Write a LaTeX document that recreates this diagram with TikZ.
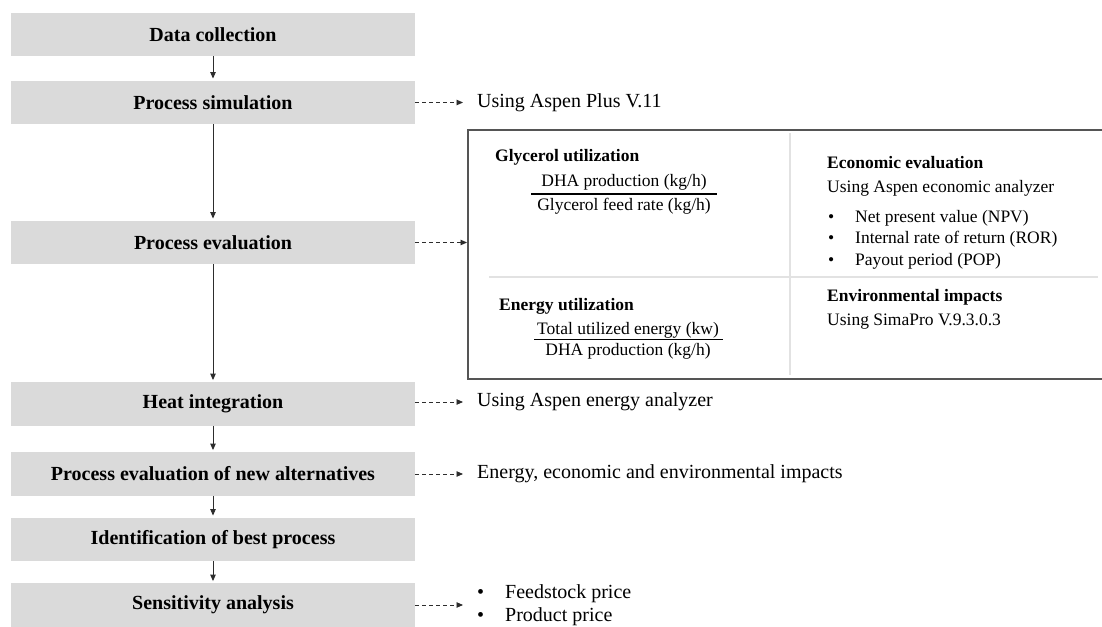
\documentclass[tikz,border=0pt]{standalone}
\usepackage{fontspec}
\setmainfont{Liberation Serif}
\usetikzlibrary{arrows.meta}

\definecolor{boxgray}{RGB}{218,218,218}
\definecolor{linegray}{RGB}{45,45,45}
\definecolor{framegray}{RGB}{85,85,85}
\definecolor{divgray}{RGB}{226,226,226}

\newcommand{\stagefont}{\fontsize{20}{23}\selectfont}
\newcommand{\cellfont}{\fontsize{17.5}{21.5}\selectfont}

\begin{document}
\begin{tikzpicture}[x=1pt,y=-1pt,
  stagebox/.style={fill=boxgray, minimum width=404pt, minimum height=43.5pt,
    inner sep=0pt, font=\stagefont\bfseries},
  flowarrow/.style={draw=linegray, line width=0.9pt,
    -{Triangle[length=6.5pt,width=5.5pt]}, shorten >=2pt},
  noteline/.style={draw=linegray, line width=0.9pt, dash pattern=on 4pt off 3pt,
    -{Triangle[length=6.5pt,width=5.5pt]}},
  note/.style={anchor=west, inner xsep=14pt, inner ysep=0pt, font=\stagefont, align=left},
  cell/.style={anchor=west, inner sep=0pt, font=\cellfont, align=left},
  cellhead/.style={cell, font=\cellfont\bfseries},
  ratio/.style={inner sep=0pt, font=\cellfont},
  divider/.style={draw=divgray, line width=1.5pt},
]
\useasboundingbox (0,0) rectangle (1102,626);
\clip (0,0) rectangle (1102,626);

% main sequence of stages
\node[stagebox] (dc) at (213,34.5)  {Data collection};
\node[stagebox] (ps) at (213,102.5) {Process simulation};
\node[stagebox] (pe) at (213,242.5) {Process evaluation};
\node[stagebox] (hi) at (213,404)   {Heat integration};
\node[stagebox] (na) at (213,474)   {Process evaluation of new alternatives};
\node[stagebox] (ib) at (213,539.5) {Identification of best process};
\node[stagebox] (sa) at (213,605)   {Sensitivity analysis};

\draw[flowarrow] (dc) -- (ps);
\draw[flowarrow] (ps) -- (pe);
\draw[flowarrow] (pe) -- (hi);
\draw[flowarrow] (hi) -- (na);
\draw[flowarrow] (na) -- (ib);
\draw[flowarrow] (ib) -- (sa);

% side notes
\node[note] (n1) at (463,102.5) {Using Aspen Plus V.11};
\node[note] (n3) at (463,402)   {Using Aspen energy analyzer};
\node[note] (n4) at (463,474)   {Energy, economic and environmental impacts};
\node[note] (n5) at (463,605.5) {\makebox[28pt][l]{•}Feedstock price\\\makebox[28pt][l]{•}Product price};

% evaluation criteria panel
\node[draw=framegray, line width=1.5pt, anchor=north west, minimum width=660pt,
  minimum height=249pt, inner sep=0pt] (evalbox) at (467,129) {};
\draw[divider] (790,133) -- (790,375);
\draw[divider] (489,277) -- (1098,277);

\node[cellhead] (gu) at (495,157) {Glycerol utilization};
\node[ratio] (gnum) at (624,182) {DHA production (kg/h)};
\node[ratio] (gden) at (624,206.5) {Glycerol feed rate (kg/h)};
\draw[line width=1.1pt] (531,194) -- (717,194);

\node[cellhead] (eu) at (499,306) {Energy utilization};
\node[ratio] (enum) at (628,330) {Total utilized energy (kw)};
\node[ratio] (eden) at (628,351) {DHA production (kg/h)};
\draw[line width=1.1pt] (534,339.5) -- (723,339.5);

\node[cellhead] (ee) at (827,163) {Economic evaluation};
\node[cell] (ea) at (827,188) {Using Aspen economic analyzer};
\node[cell] (el) at (828,239.5) {\makebox[27pt][l]{•}Net present value (NPV)\\
  \makebox[27pt][l]{•}Internal rate of return (ROR)\\
  \makebox[27pt][l]{•}Payout period (POP)};

\node[cellhead] (ei) at (827,297) {Environmental impacts};
\node[cell] (es) at (827,322) {Using SimaPro V.9.3.0.3};

% dashed links to the notes
\draw[noteline] (ps.east) -- (ps.east -| n1.west);
\draw[noteline] (pe.east) -- (pe.east -| evalbox.west);
\draw[noteline] (hi.east |- n3.west) -- (n3.west);
\draw[noteline] (na.east) -- (na.east -| n4.west);
\draw[noteline] (sa.east) -- (sa.east -| n5.west);
\end{tikzpicture}
\end{document}
